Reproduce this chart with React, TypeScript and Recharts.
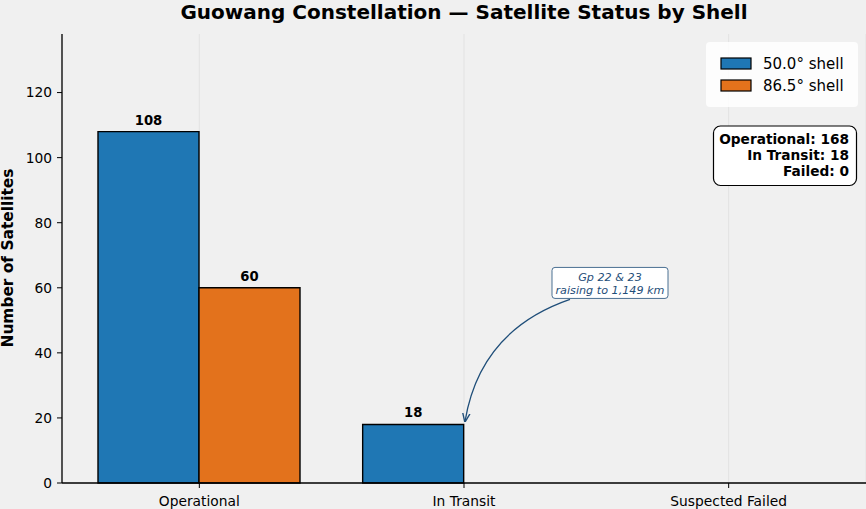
import { Bar, BarChart, CartesianGrid, LabelList, ReferenceDot, XAxis, YAxis } from 'recharts'

const categories = ['Operational', 'In Transit', 'Suspected Failed']
const shell50 = [108, 18, 0]
const shell865 = [60, 0, 0]
const seriesNames = ['50.0° shell', '86.5° shell']
const seriesColors = ['#1f77b4', '#e3721c']
const yTicks = [0, 20, 40, 60, 80, 100, 120]
const noteLines = ['Gp 22 & 23', 'raising to 1,149 km']
const statLabels = ['Operational', 'In Transit', 'Failed']

const FONT = '"DejaVu Sans", sans-serif'
const NAVY = '#1f4e79'

const data = categories.map((name, i) => ({ name, s50: shell50[i], s865: shell865[i] }))
const totals = categories.map((_, i) => shell50[i] + shell865[i])

const renderValue = (props: any) => {
  const { x, y, width, value } = props
  if (!value) return null
  return (
    <text x={x + width / 2} y={y - 7} textAnchor="middle" fontSize={13.2} fontWeight="bold" fill="#000" fontFamily={FONT}>
      {value}
    </text>
  )
}

// arrow + note box, drawn relative to the top of the In Transit bar
const NoteShape = (props: any) => {
  const { cx, cy } = props
  if (cx == null || cy == null) return null
  const tipX = cx + 1
  const tipY = cy - 3
  return (
    <g>
      <defs>
        <marker id="arrowhead" viewBox="0 0 10 10" refX="9" refY="5" markerWidth="7" markerHeight="7" orient="auto">
          <path d="M0,1 L10,5 L0,9" fill="none" stroke={NAVY} strokeWidth={1.5} />
        </marker>
      </defs>
      <path
        d={`M${cx + 106},${cy - 125} Q${cx + 16},${cy - 94} ${tipX},${tipY}`}
        fill="none"
        stroke={NAVY}
        strokeWidth={1.3}
        markerEnd="url(#arrowhead)"
      />
      <rect x={cx + 88} y={cy - 157} width={116} height={31} rx={3} fill="#fff" stroke={NAVY} strokeOpacity={0.8} />
      {noteLines.map((line, i) => (
        <text
          key={line}
          x={cx + 146}
          y={cy - 143 + i * 13}
          textAnchor="middle"
          fontSize={11.2}
          fontStyle="italic"
          fill={NAVY}
          fontFamily={FONT}
        >
          {line}
        </text>
      ))}
    </g>
  )
}

export default function App() {
  return (
    <div style={{ position: 'absolute', top: 0, left: 0, width: 866, height: 509, background: '#f0f0f0', fontFamily: FONT }}>
      <BarChart
        width={866}
        height={509}
        data={data}
        margin={{ top: 34, right: 0, left: 0, bottom: 0 }}
        barGap={0}
        barSize={101}
      >
        <CartesianGrid horizontal={false} stroke="#e2e2e2" />
        <XAxis
          dataKey="name"
          height={26}
          padding={{ left: 5, right: 5 }}
          tickSize={5}
          tickMargin={8}
          axisLine={{ stroke: '#000', strokeWidth: 1.3 }}
          tickLine={{ stroke: '#000' }}
          tick={{ fill: '#000', fontSize: 13.8, fontFamily: FONT }}
        />
        <YAxis
          width={62}
          domain={[0, 138]}
          ticks={yTicks}
          tickSize={5}
          tickMargin={5}
          axisLine={{ stroke: '#000', strokeWidth: 1.3 }}
          tickLine={{ stroke: '#000' }}
          tick={{ fill: '#000', fontSize: 13.8, fontFamily: FONT }}
        />
        <Bar dataKey="s50" name={seriesNames[0]} fill={seriesColors[0]} stroke="#000" strokeWidth={1.4} isAnimationActive={false}>
          <LabelList dataKey="s50" content={renderValue} />
        </Bar>
        <Bar dataKey="s865" name={seriesNames[1]} fill={seriesColors[1]} stroke="#000" strokeWidth={1.4} isAnimationActive={false}>
          <LabelList dataKey="s865" content={renderValue} />
        </Bar>
        <ReferenceDot x={categories[1]} y={shell50[1]} shape={NoteShape} />
      </BarChart>

      <svg width={866} height={509} style={{ position: 'absolute', top: 0, left: 0, pointerEvents: 'none' }}>
        <text x={464} y={18.8} textAnchor="middle" fontSize={20} fontWeight="bold" fill="#000" fontFamily={FONT}>
          Guowang Constellation — Satellite Status by Shell
        </text>
        <text
          transform="translate(13,258) rotate(-90)"
          textAnchor="middle"
          fontSize={15.4}
          fontWeight="bold"
          fill="#000"
          fontFamily={FONT}
        >
          Number of Satellites
        </text>

        <rect x={706} y={42} width={152} height={65} rx={4} fill="#fff" fillOpacity={0.85} />
        {seriesNames.map((name, i) => (
          <g key={name}>
            <rect x={721} y={58 + i * 22} width={30} height={11} fill={seriesColors[i]} stroke="#000" strokeWidth={1.2} />
            <text x={763} y={68.5 + i * 22} fontSize={15} fill="#000" fontFamily={FONT}>
              {name}
            </text>
          </g>
        ))}

        <rect x={713.5} y={126} width={143} height={59.5} rx={7} fill="#fff" stroke="#000" strokeWidth={1.2} />
        {statLabels.map((label, i) => (
          <text
            key={label}
            x={849}
            y={143.5 + i * 16.2}
            textAnchor="end"
            fontSize={13.7}
            fontWeight="bold"
            fill="#000"
            fontFamily={FONT}
          >
            {`${label}: ${totals[i]}`}
          </text>
        ))}
      </svg>
    </div>
  )
}
